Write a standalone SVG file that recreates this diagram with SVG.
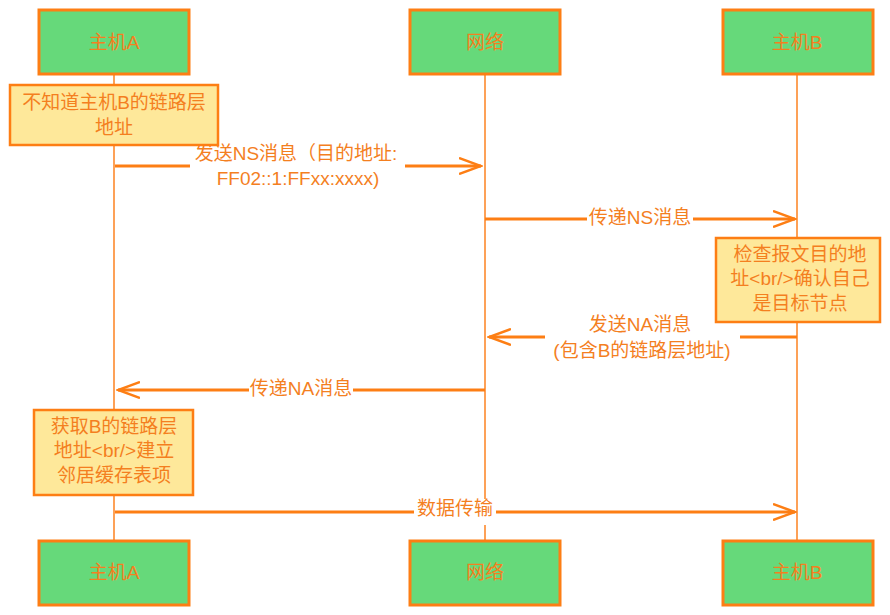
<svg xmlns="http://www.w3.org/2000/svg" width="890" height="615" viewBox="0 0 890 615">
<defs>
<style>
.actor{fill:#66d97a;stroke:#fd7e14;stroke-width:3}
.note{fill:#fee89a;stroke:#fd7e14;stroke-width:2.5}
.life{stroke:#fd8a2e;stroke-width:1.6;fill:none}
.msg{stroke:#fd7e14;stroke-width:2.8;fill:none}
text{font-family:"Liberation Sans","Noto Sans CJK SC",sans-serif;fill:#f47f1f;text-anchor:middle;dominant-baseline:central}
.at{font-size:19px}
.nt{font-size:19px}
.ml{font-size:19px}
.bg{fill:#ffffff}
</style>
<marker id="arr" markerWidth="24" markerHeight="18" refX="22" refY="9" orient="auto" markerUnits="userSpaceOnUse">
<path d="M0,1 L22,9 L0,17" fill="none" stroke="#fd7e14" stroke-width="2.5"/>
</marker>
</defs>
<rect width="890" height="615" fill="#ffffff"/>
<g id="lifelines">
<line class="life" x1="114" y1="75" x2="114" y2="540"/>
<line class="life" x1="485" y1="75" x2="485" y2="540"/>
<line class="life" x1="797" y1="75" x2="797" y2="540"/>
</g>
<g id="actorA_top"><rect class="actor" x="39" y="10" width="150" height="64"/><text class="at" x="114" y="42">主机A</text></g>
<g id="net_top"><rect class="actor" x="410" y="10" width="150" height="64"/><text class="at" x="485" y="42">网络</text></g>
<g id="actorB_top"><rect class="actor" x="723" y="10" width="150" height="64"/><text class="at" x="797" y="42">主机B</text></g>
<g id="actorA_bot"><rect class="actor" x="39" y="541" width="150" height="64"/><text class="at" x="114" y="572">主机A</text></g>
<g id="net_bot"><rect class="actor" x="410" y="541" width="150" height="64"/><text class="at" x="485" y="572">网络</text></g>
<g id="actorB_bot"><rect class="actor" x="723" y="541" width="150" height="64"/><text class="at" x="797" y="572">主机B</text></g>
<g id="connectors">
<line class="msg" x1="115" y1="166" x2="481" y2="166" marker-end="url(#arr)"/>
<rect class="bg" x="190" y="142" width="215" height="48"/>
<text class="ml" x="296" y="153">发送NS消息（目的地址:</text>
<text class="ml" x="298" y="178">FF02::1:FFxx:xxxx)</text>
<line class="msg" x1="485" y1="219" x2="795" y2="219" marker-end="url(#arr)"/>
<rect class="bg" x="587" y="207" width="106" height="24"/>
<text class="ml" x="640" y="217">传递NS消息</text>
<line class="msg" x1="797" y1="337" x2="489" y2="337" marker-end="url(#arr)"/>
<rect class="bg" x="545" y="312" width="195" height="50"/>
<text class="ml" x="640" y="324">发送NA消息</text>
<text class="ml" x="642" y="350">(包含B的链路层地址)</text>
<line class="msg" x1="485" y1="390" x2="118" y2="390" marker-end="url(#arr)"/>
<rect class="bg" x="249" y="378" width="104" height="24"/>
<text class="ml" x="301" y="388">传递NA消息</text>
<line class="msg" x1="115" y1="512" x2="795" y2="512" marker-end="url(#arr)"/>
<rect class="bg" x="414" y="499" width="82" height="26"/>
<text class="ml" x="455" y="508">数据传输</text>
</g>
<g id="note1"><rect class="note" x="10" y="85" width="208" height="60"/><text class="nt" x="114" y="102">不知道主机B的链路层</text><text class="nt" x="114" y="127">地址</text></g>
<g id="note2"><rect class="note" x="716" y="238" width="164" height="84"/><text class="nt" x="800" y="254">检查报文目的地</text><text class="nt" x="800" y="278">址&lt;br/&gt;确认自己</text><text class="nt" x="800" y="303">是目标节点</text></g>
<g id="note3"><rect class="note" x="34" y="410" width="159" height="85"/><text class="nt" x="114" y="426">获取B的链路层</text><text class="nt" x="114" y="450">地址&lt;br/&gt;建立</text><text class="nt" x="114" y="475">邻居缓存表项</text></g>
</svg>
